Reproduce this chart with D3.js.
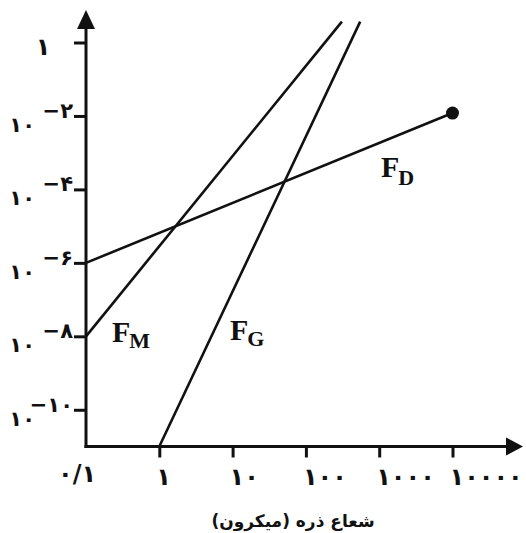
<!DOCTYPE html>
<html>
<head>
<meta charset="utf-8">
<script src="https://cdn.jsdelivr.net/npm/d3@7/dist/d3.min.js"></script>
<style>
  html, body { margin: 0; padding: 0; background: #fff; }
  svg { display: block; }
</style>
</head>
<body>
<script>
// ---- data ----
const xTickValues = [0.1, 1, 10, 100, 1000, 10000];
const xTickLabels = ["۰/۱", "۱", "۱۰", "۱۰۰", "۱۰۰۰", "۱۰۰۰۰"];
const yTickValues = [1, 1e-2, 1e-4, 1e-6, 1e-8, 1e-10];
const yTickExponents = [null, "−۲", "−۴", "−۶", "−۸", "−۱۰"];
const seriesNames = ["F_D", "F_M", "F_G"];
const seriesSubscripts = ["D", "M", "G"];
const fdPoints = [[0.1, 1e-6], [10000, 0.012]];
const fmPoints = [[0.1, 1e-8], [310, 3.7]];
const fgPoints = [[1, 1e-11], [550, 3.7]];
const xAxisTitle = "شعاع ذره (میکرون)";

// ---- layout ----
const W = 526, H = 533;
const svg = d3.select("body").append("svg").attr("width", W).attr("height", H);

const x = d3.scaleLog().domain([0.1, 10000]).range([86, 452.5]);
const y = d3.scaleLog().domain([1e-11, 1]).range([446.5, 42.5]);

const ink = "#111";
const digitFont = "'DejaVu Sans', sans-serif";

// data lines
const line = d3.line().x(d => x(d[0])).y(d => y(d[1]));
[fdPoints, fmPoints, fgPoints].forEach(pts => {
  svg.append("path").datum(pts).attr("d", line)
    .attr("fill", "none").attr("stroke", ink).attr("stroke-width", 2.6);
});
// end dot of F_D
svg.append("circle")
  .attr("cx", x(fdPoints[1][0])).attr("cy", y(fdPoints[1][1]))
  .attr("r", 6.5).attr("fill", ink);

// axes lines
const x0 = x(0.1), y0 = y(1e-11);
svg.append("line").attr("x1", x0).attr("y1", y0 + 1.5).attr("x2", x0).attr("y2", 24)
  .attr("stroke", ink).attr("stroke-width", 3);
svg.append("line").attr("x1", x0 - 1.5).attr("y1", y0).attr("x2", 510).attr("y2", y0)
  .attr("stroke", ink).attr("stroke-width", 3);
// arrowheads
svg.append("path").attr("d", `M${x0},10 L${x0 - 9},29 L${x0 + 9},29 Z`).attr("fill", ink);
svg.append("path").attr("d", `M523,${y0} L506,${y0 - 9} L506,${y0 + 9} Z`).attr("fill", ink);

// x axis ticks (via d3 axis)
const xAxis = d3.axisBottom(x).tickValues(xTickValues.slice(1)).tickSize(11).tickFormat("");
const gx = svg.append("g").attr("transform", `translate(0,${y0})`).call(xAxis);
gx.select(".domain").remove();
gx.selectAll(".tick line").attr("stroke", ink).attr("stroke-width", 3);

// x tick labels
svg.append("g").selectAll("text").data(xTickValues).join("text")
  .attr("x", (d, i) => i === 0 ? x(d) - 28 : x(d) - 3)
  .attr("y", (d, i) => i === 0 ? 482 : 485)
  .attr("text-anchor", "start")
  .attr("font-family", digitFont).attr("font-weight", "bold")
  .attr("font-size", 24).attr("fill", ink)
  .attr("letter-spacing", (d, i) => i === 0 ? 0 : 1.5)
  .attr("direction", "ltr")
  .text((d, i) => xTickLabels[i]);

// y axis ticks (via d3 axis)
const yAxis = d3.axisLeft(y).tickValues(yTickValues).tickSize(12).tickFormat("");
const gy = svg.append("g").attr("transform", `translate(${x0},0)`).call(yAxis);
gy.select(".domain").remove();
gy.selectAll(".tick line").attr("stroke", ink).attr("stroke-width", 3);

// y tick labels
const gyl = svg.append("g");
yTickValues.forEach((v, i) => {
  const ty = y(v);
  if (yTickExponents[i] === null) {
    gyl.append("text").attr("x", 43).attr("y", ty + 12).attr("text-anchor", "middle")
      .attr("font-family", digitFont).attr("font-weight", "bold")
      .attr("font-size", 24).attr("fill", ink).text("۱");
  } else {
    gyl.append("text").attr("x", 35).attr("y", ty + 16).attr("text-anchor", "end")
      .attr("direction", "ltr").attr("letter-spacing", 1)
      .attr("font-family", digitFont).attr("font-weight", "bold")
      .attr("font-size", 21).attr("fill", ink).text("۱۰");
    gyl.append("text").attr("x", 73).attr("y", ty + 2).attr("text-anchor", "end")
      .attr("direction", "ltr")
      .attr("font-family", digitFont).attr("font-weight", "bold")
      .attr("font-size", 21).attr("fill", ink)
      .text(yTickExponents[i]);
  }
});

// series labels
const labelPos = [[381, 177, 8], [112, 342, 6], [230, 340, 6]];
seriesNames.forEach((name, i) => {
  const [lx, ly, dy] = labelPos[i];
  const t = svg.append("text").attr("x", lx).attr("y", ly)
    .attr("font-family", "'Liberation Serif', 'Times New Roman', serif")
    .attr("font-weight", "bold").attr("fill", ink).attr("font-size", 30);
  t.append("tspan").text("F");
  t.append("tspan").attr("font-size", 22).attr("dy", dy).attr("dx", -1).text(seriesSubscripts[i]);
});

// x axis title
svg.append("text").attr("x", 293).attr("y", 527).attr("text-anchor", "middle")
  .attr("direction", "rtl")
  .attr("font-family", digitFont).attr("font-weight", "bold")
  .attr("font-size", 17).attr("fill", ink).text(xAxisTitle);
</script>
</body>
</html>
